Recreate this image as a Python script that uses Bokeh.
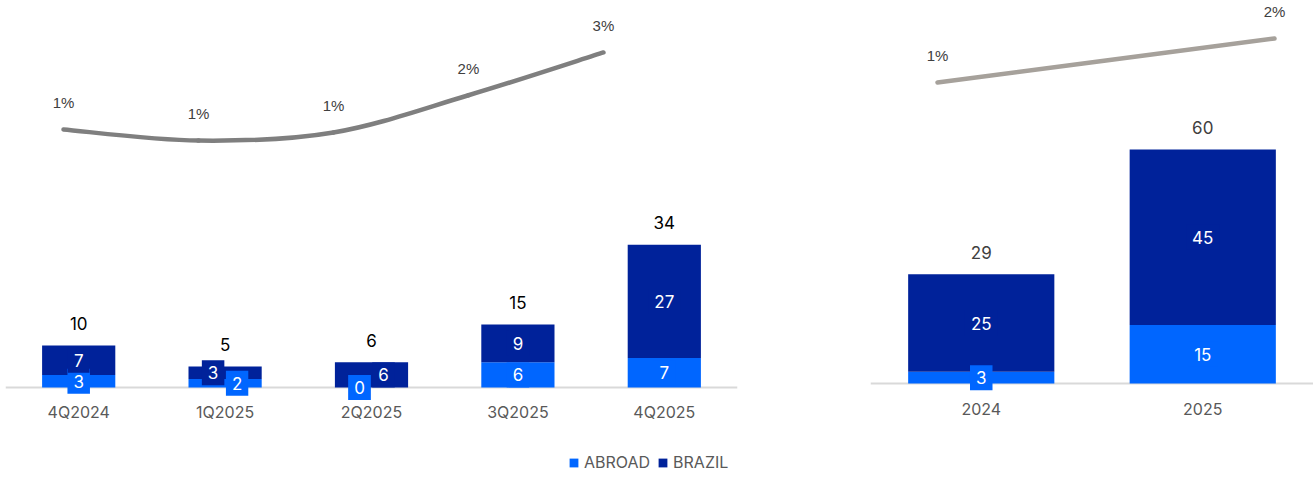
from bokeh.plotting import figure
from bokeh.models import ColumnDataSource, Range1d, Span, Legend, LegendItem
from bokeh.layouts import row
from bokeh.embed import file_html
from bokeh.resources import INLINE
from bokeh.core.properties import value

# ---------------- data ----------------
quarters = ["4Q2024", "1Q2025", "2Q2025", "3Q2025", "4Q2025"]
q_abroad = [3, 2, 0, 6, 7]
q_brazil = [7, 3, 6, 9, 27]
q_total = [10, 5, 6, 15, 34]
q_ratio = [1.2, 0.94, 1.13, 2.0, 3.0]   # percent

years = ["2024", "2025"]
y_abroad = [3, 15]
y_brazil = [25, 45]
y_total = [29, 60]
y_ratio = [1.1, 1.8]                    # percent

# ---------------- style ----------------
C_ABROAD = "#0066ff"
C_BRAZIL = "#00229a"
FONT = value("Inter")
AXIS_GREY = "#d9d9d9"
LABEL_GREY = "#595959"


def catmull_bezier(xs, ys):
    n = len(xs)
    P = list(zip(xs, ys))
    out = dict(x0=[], y0=[], x1=[], y1=[], cx0=[], cy0=[], cx1=[], cy1=[])
    for i in range(n - 1):
        p0 = P[i - 1] if i > 0 else P[i]
        p1 = P[i]
        p2 = P[i + 1]
        p3 = P[i + 2] if i + 2 < n else P[i + 1]
        out["x0"].append(p1[0]); out["y0"].append(p1[1])
        out["x1"].append(p2[0]); out["y1"].append(p2[1])
        out["cx0"].append(p1[0] + (p2[0] - p0[0]) / 6.0)
        out["cy0"].append(p1[1] + (p2[1] - p0[1]) / 6.0)
        out["cx1"].append(p2[0] - (p3[0] - p1[0]) / 6.0)
        out["cy1"].append(p2[1] - (p3[1] - p1[1]) / 6.0)
    return out


def build_panel(cats, abroad, brazil, total, ratio, *, width, height, border_left,
                border_right, yr, pct_r, line_xr, bar_w, line_color,
                total_color, legend=False, nudge_threshold=4.0):
    n = len(cats)
    idx = list(range(n))
    p = figure(x_range=Range1d(-0.5, n - 0.5), y_range=Range1d(*yr),
               width=width, height=height,
               output_backend="svg", toolbar_location=None,
               x_axis_location=None, y_axis_location=None,
               min_border_left=border_left, min_border_right=border_right,
               min_border_top=0, min_border_bottom=0)
    p.extra_y_ranges = {"pct": Range1d(*pct_r)}
    p.extra_x_ranges = {"lx": Range1d(*line_xr)}
    p.outline_line_color = None
    p.xgrid.visible = False
    p.ygrid.visible = False
    p.background_fill_color = "white"
    p.border_fill_color = "white"

    # baseline (category axis line)
    p.add_layout(Span(location=0, dimension="width", line_color=AXIS_GREY,
                      line_width=2, level="underlay"))

    ab_top = list(abroad)
    br_top = [a + b for a, b in zip(abroad, brazil)]
    src = ColumnDataSource(dict(x=idx, zero=[0] * n, cat=cats, ab_top=ab_top,
                                br_bot=ab_top, br_top=br_top,
                                total=[str(t) for t in total]))
    r_ab = p.vbar(x="x", bottom=0, top="ab_top", width=bar_w, source=src,
                  fill_color=C_ABROAD, line_color=None)
    r_br = p.vbar(x="x", bottom="br_bot", top="br_top", width=bar_w, source=src,
                  fill_color=C_BRAZIL, line_color=None)

    # category labels
    p.text(x="x", y="zero", text="cat", source=src, y_offset=25,
           text_color=LABEL_GREY, text_font=FONT, text_font_size="16px",
           text_align="center", text_baseline="middle")

    # segment labels (boxed, like the source's data labels)
    lx, ly, lt, lbg, loff = [], [], [], [], []
    for i, (a, b) in enumerate(zip(abroad, brazil)):
        ma, mb = a / 2.0, a + b / 2.0
        close = (mb - ma) < nudge_threshold
        sgn = 1 if i % 2 else -1
        lx += [i, i]
        ly += [ma, mb]
        lt += [str(a), str(b)]
        lbg += [C_ABROAD, C_BRAZIL]
        loff += [12 * sgn if close else 0, -12 * sgn if close else 0]
    seg = ColumnDataSource(dict(x=lx, y=ly, t=lt, bg=lbg, off=loff))
    p.text(x="x", y="y", text="t", source=seg, x_offset="off",
           text_color="white", text_font=FONT, text_font_size="17px",
           text_align="center", text_baseline="middle",
           background_fill_color="bg", padding=6)

    p.text(x="x", y="br_top", text="total", source=src, y_offset=-22,
           text_color=total_color, text_font=FONT, text_font_size="17px",
           text_align="center", text_baseline="middle")

    # ratio line (smoothed)
    bz = ColumnDataSource(catmull_bezier(idx, ratio))
    p.bezier(x0="x0", y0="y0", x1="x1", y1="y1", cx0="cx0", cy0="cy0",
             cx1="cx1", cy1="cy1", source=bz, line_color=line_color,
             line_width=4.5, line_cap="round", x_range_name="lx", y_range_name="pct")
    psrc = ColumnDataSource(dict(x=idx, y=ratio, t=[f"{v:.0f}%" for v in ratio]))
    p.text(x="x", y="y", text="t", source=psrc, y_offset=-27,
           x_range_name="lx", y_range_name="pct",
           text_color="#404040", text_font=value("Liberation Sans"),
           text_font_size="15px", text_align="center", text_baseline="middle")

    if legend:
        lg = Legend(items=[LegendItem(label="ABROAD", renderers=[r_ab]),
                           LegendItem(label="BRAZIL", renderers=[r_br])],
                    orientation="horizontal", location=(563, 5),
                    label_text_font="Inter", label_text_font_size="16px",
                    label_text_color=LABEL_GREY, glyph_width=11, glyph_height=11,
                    spacing=7, label_standoff=5, padding=0, margin=0,
                    border_line_color=None, background_fill_alpha=0)
        p.add_layout(lg)
    return p


left = build_panel(quarters, q_abroad, q_brazil, q_total, q_ratio,
                   width=745, height=477, border_left=5, border_right=8,
                   yr=(-21.43, 92.14), pct_r=(-6.935, 4.215),
                   line_xr=(-0.4296, 4.993), bar_w=0.5, line_color="#7f7f7f",
                   total_color="#000000", legend=True)
right = build_panel(years, y_abroad, y_brazil, y_total, y_ratio,
                    width=568, height=477, border_left=125, border_right=0,
                    yr=(-24.10, 98.2), pct_r=(-5.184, 2.404),
                    line_xr=(-0.1988, 1.1157), bar_w=0.66, line_color="#a6a19b",
                    total_color="#404040", legend=False)

layout = row(left, right)
open("out.html", "w").write(file_html(layout, INLINE))
